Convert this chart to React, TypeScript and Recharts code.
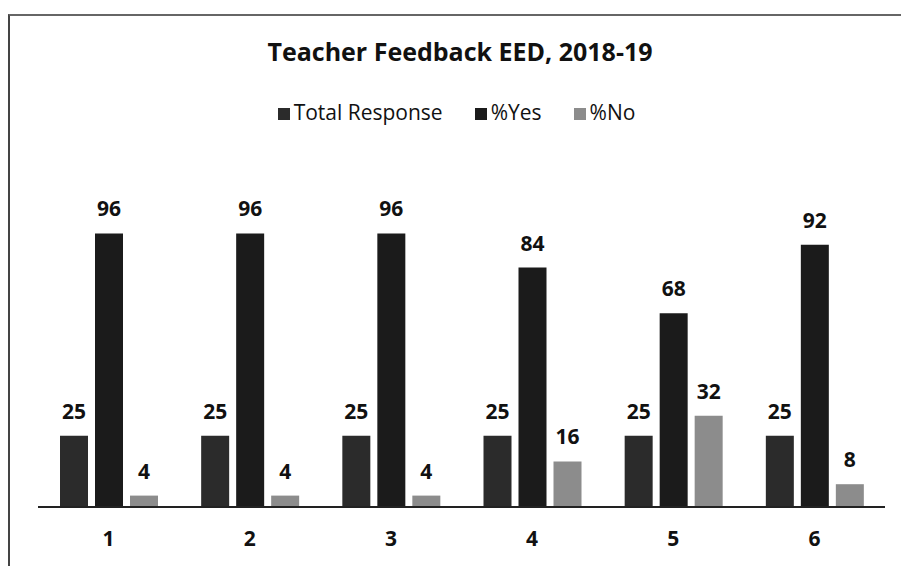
import React from "react";
import { BarChart, Bar, XAxis, YAxis, Legend, LabelList } from "recharts";

const categories = ["1", "2", "3", "4", "5", "6"];
const totalResponse = [25, 25, 25, 25, 25, 25];
const pctYes = [96, 96, 96, 84, 68, 92];
const pctNo = [4, 4, 4, 16, 32, 8];
const seriesNames = ["Total Response", "%Yes", "%No"];

const data = categories.map((c, i) => ({
  name: c,
  total: totalResponse[i],
  yes: pctYes[i],
  no: pctNo[i],
}));

const FONT = "'Open Sans', Lato, sans-serif";
const labelStyle = { fontSize: 21, fontWeight: 700, fill: "#111", fontFamily: FONT };

export default function App() {
  return (
    <div
      style={{
        position: "absolute",
        left: 0,
        top: 0,
        width: 901,
        height: 566,
        overflow: "hidden",
        background: "#fff",
        fontFamily: FONT,
      }}
    >
      <div
        style={{
          position: "absolute",
          left: 8,
          top: 14,
          width: 1000,
          height: 1000,
          borderLeft: "2px solid #444",
          borderTop: "2px solid #666",
        }}
      />
      <div
        style={{
          position: "absolute",
          left: 10,
          top: 34,
          width: 900,
          textAlign: "center",
          fontSize: 25,
          fontWeight: 700,
          color: "#111",
        }}
      >
        Teacher Feedback EED, 2018-19
      </div>
      <BarChart
        width={901}
        height={566}
        data={data}
        margin={{ top: 194, right: 16, bottom: 29, left: 38 }}
        barGap={7}
        barSize={28}
      >
        <YAxis hide domain={[0, 100]} />
        <XAxis
          dataKey="name"
          axisLine={{ stroke: "#222", strokeWidth: 2 }}
          tickLine={false}
          tickMargin={18}
          tick={labelStyle}
        />
        <Legend
          verticalAlign="top"
          align="center"
          iconType="square"
          iconSize={12}
          itemSorter={(item: any) => seriesNames.indexOf(item.value)}
          wrapperStyle={{ top: 98, left: 22, width: 901, fontSize: 21, fontFamily: FONT, color: "#111" }}
          formatter={(v) => <span style={{ color: "#111", marginRight: 22 }}>{v}</span>}
        />
        <Bar dataKey="total" name={seriesNames[0]} fill="#2b2b2b" isAnimationActive={false}>
          <LabelList dataKey="total" position="top" offset={17} style={labelStyle} />
        </Bar>
        <Bar dataKey="yes" name={seriesNames[1]} fill="#1b1b1b" isAnimationActive={false}>
          <LabelList dataKey="yes" position="top" offset={17} style={labelStyle} />
        </Bar>
        <Bar dataKey="no" name={seriesNames[2]} fill="#8c8c8c" isAnimationActive={false}>
          <LabelList dataKey="no" position="top" offset={17} style={labelStyle} />
        </Bar>
      </BarChart>
    </div>
  );
}
